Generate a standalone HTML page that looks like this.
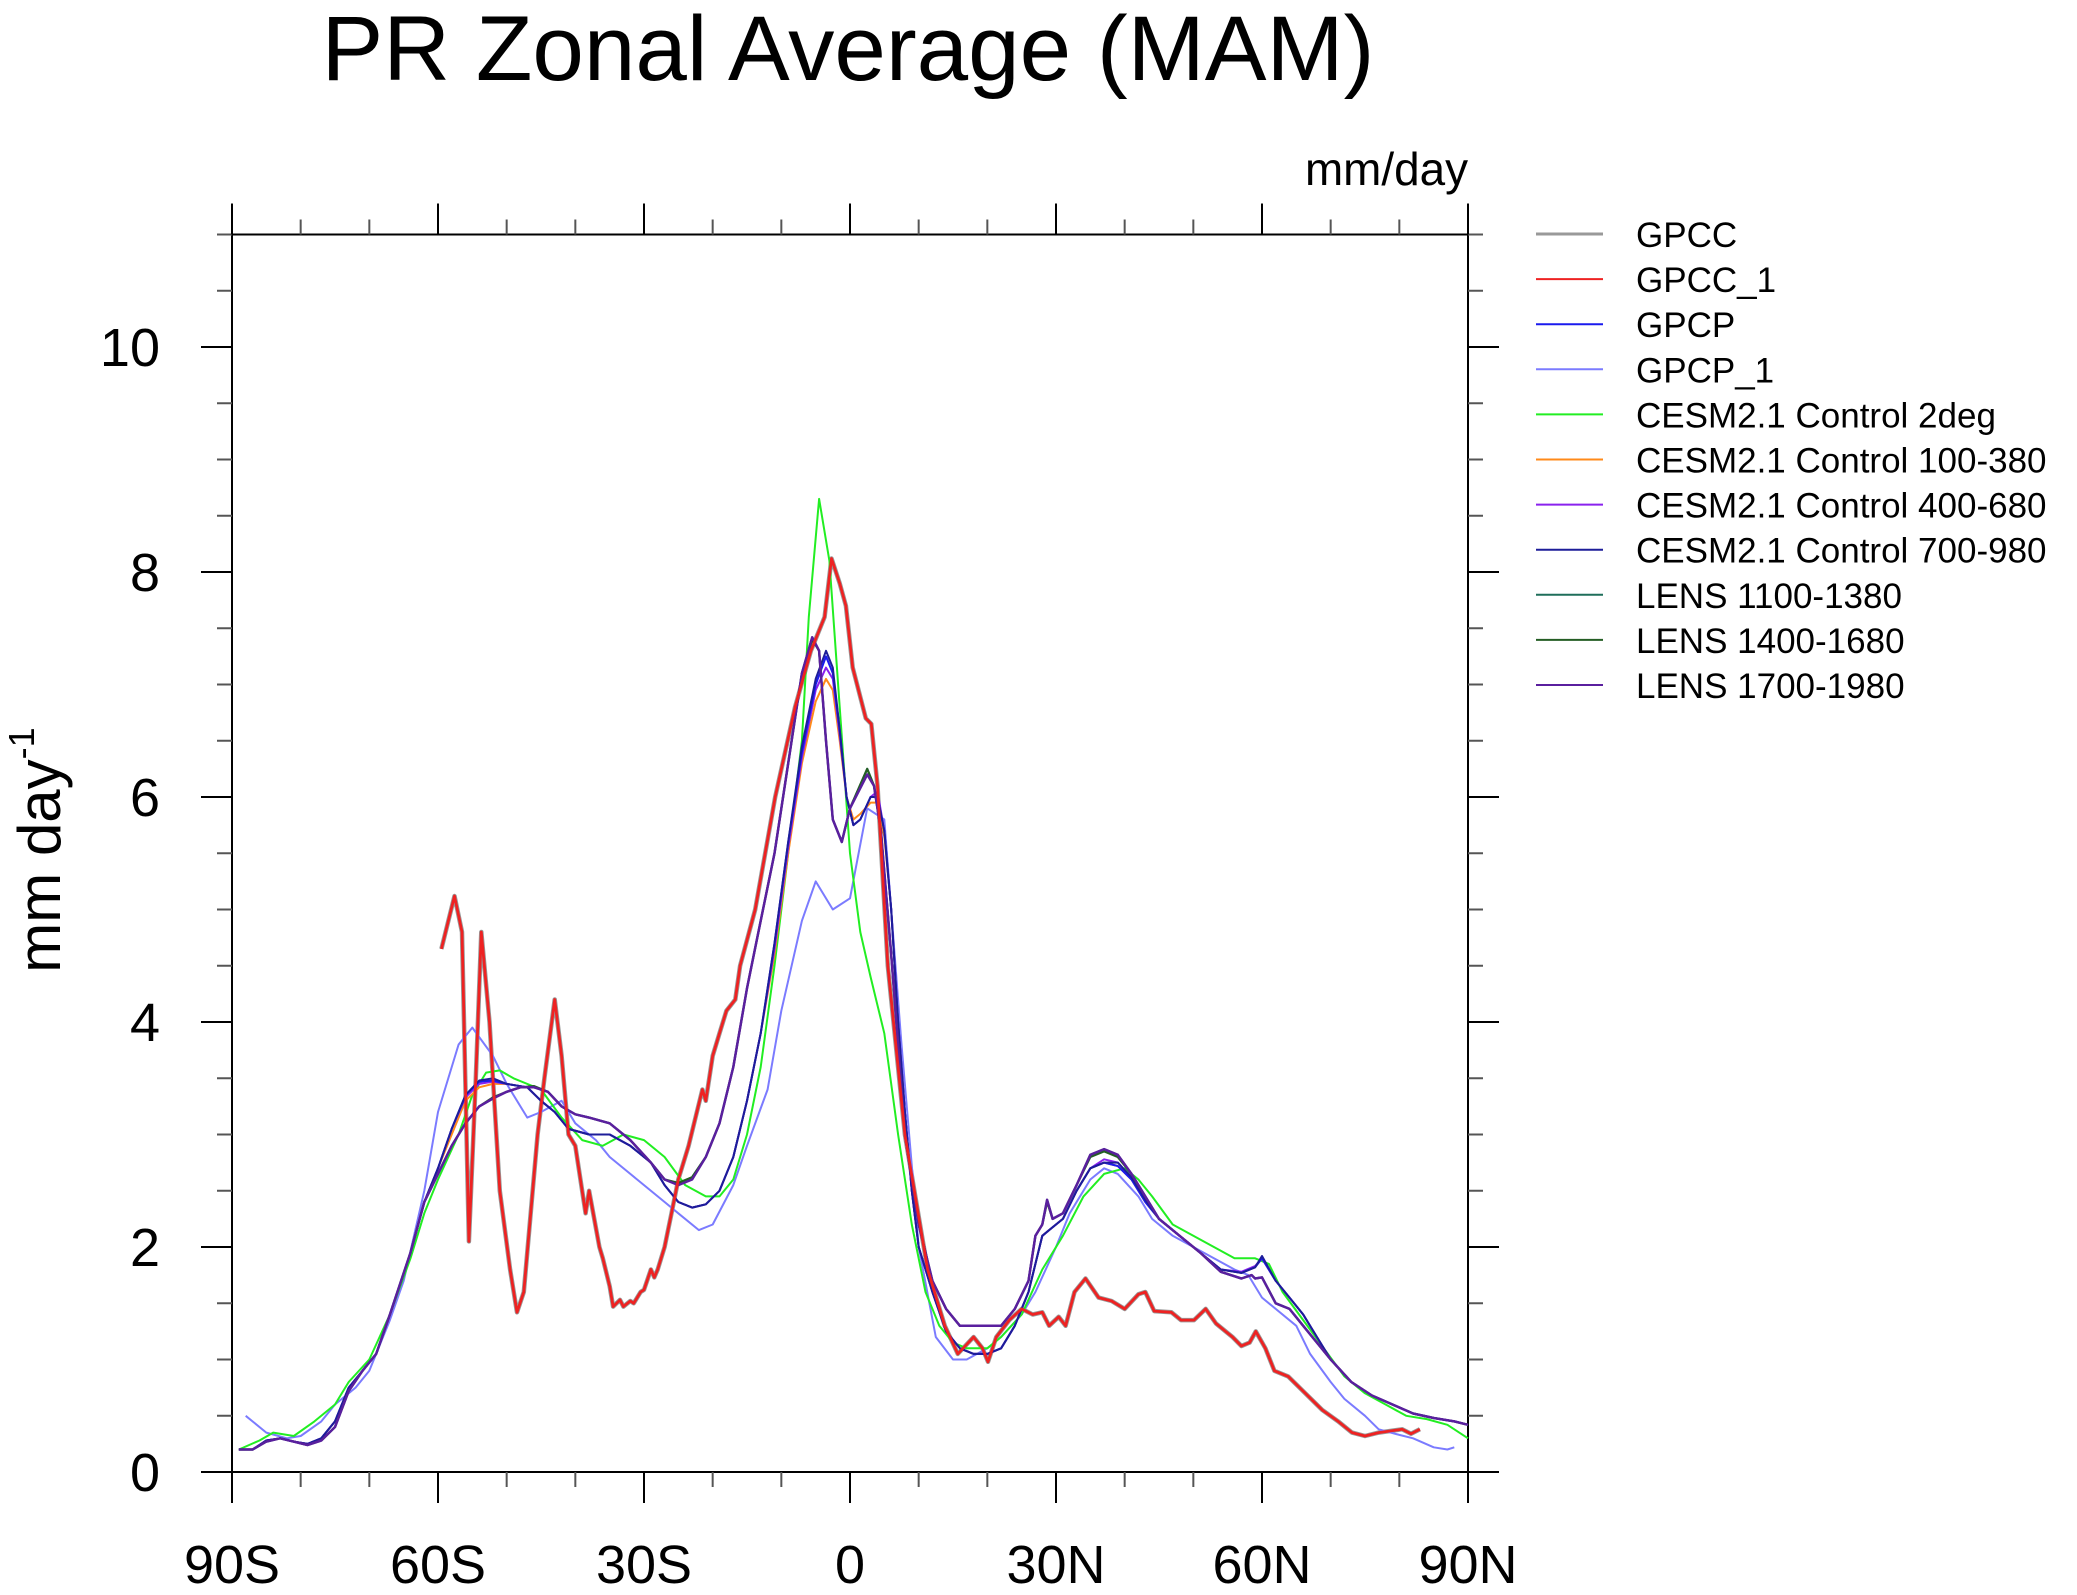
<!DOCTYPE html>
<html><head><meta charset="utf-8"><style>
html,body{margin:0;padding:0;background:#fff;}
svg{display:block;font-family:"Liberation Sans",Arial,sans-serif;}
</style></head><body>
<svg id="chart" width="2077" height="1595" viewBox="0 0 2077 1595" xmlns="http://www.w3.org/2000/svg">
<text x="848" y="80" font-size="92" text-anchor="middle" textLength="1053" lengthAdjust="spacingAndGlyphs">PR Zonal Average (MAM)</text>
<text x="1468" y="185" font-size="46" text-anchor="end" textLength="163" lengthAdjust="spacingAndGlyphs">mm/day</text>
<text transform="translate(60,850) rotate(-90)" font-size="60" text-anchor="middle">mm day<tspan font-size="36" dy="-26">-1</tspan></text>
<g id="axes"></g>
<g id="series"></g>
<g id="legend"></g>
</svg>
<script>
const yTicks = [0,2,4,6,8,10];
const xTicks = [-90,-60,-30,0,30,60,90];
const xTickLabels = ["90S","60S","30S","0","30N","60N","90N"];

const latGPCC1 = [-59.5,-57.6,-56.5,-55.5,-54.5,-53.7,-52.5,-51,-49.5,-48.5,-47.5,-45.5,-44.5,-43,-42,-41,-40,-38.5,-38,-36.5,-36,-35,-34.5,-33.5,-33,-32,-31.5,-30.5,-30,-29,-28.5,-28,-27,-26,-25,-23.5,-22.5,-21.5,-21,-20,-19,-18,-16.7,-16,-13.8,-10.9,-8,-5.7,-3.7,-2.7,-1.5,-0.6,0.4,2.3,3.1,4,5.5,8,11.3,13.8,15.7,18,19.3,20.1,21.3,23.2,25,26.6,28,29,30.4,31.4,32.7,34.3,36.2,38.1,40,42,43,44.3,46.8,48.2,50.1,51.8,53.3,54.7,55.7,57,58.2,59.1,60.5,61.8,63.8,66.3,68.8,71.1,73.1,75,77,79.3,80.4,81.7,83];
const valGPCC1 = [4.65,5.12,4.8,2.05,3.5,4.8,4.0,2.5,1.8,1.42,1.6,3.0,3.5,4.2,3.7,3.0,2.9,2.3,2.5,2.0,1.9,1.65,1.47,1.53,1.47,1.52,1.5,1.6,1.62,1.8,1.73,1.8,2.0,2.3,2.6,2.9,3.15,3.4,3.3,3.7,3.9,4.1,4.2,4.5,5.0,6.0,6.8,7.3,7.6,8.12,7.9,7.7,7.15,6.7,6.65,6.1,4.5,3.0,1.8,1.3,1.05,1.2,1.1,0.98,1.2,1.35,1.45,1.4,1.42,1.3,1.38,1.3,1.6,1.72,1.55,1.52,1.45,1.58,1.6,1.43,1.42,1.35,1.35,1.45,1.32,1.25,1.2,1.12,1.15,1.25,1.1,0.9,0.85,0.7,0.55,0.45,0.35,0.32,0.35,0.37,0.38,0.34,0.38];

const latGPCP1 = [-88,-85,-82,-80,-77,-75,-72,-70,-67,-65,-62,-60,-57,-55,-52,-50,-47,-45,-42,-40,-37,-35,-32,-30,-27,-25,-22,-20,-17,-15,-12,-10,-7,-5,-2.5,0,2.5,5,7.5,10,12.5,15,17,20,22,25,27,30,32,35,37,39,42,44,47,50,53,56,58,60,62,65,67,70,72,75,77,80,82,85,87,88];
const valGPCP1 = [0.5,0.35,0.3,0.32,0.45,0.6,0.75,0.9,1.35,1.7,2.5,3.2,3.8,3.95,3.7,3.45,3.15,3.2,3.3,3.1,2.95,2.8,2.65,2.55,2.4,2.3,2.15,2.2,2.55,2.9,3.4,4.1,4.9,5.25,5.0,5.1,5.9,5.8,3.8,2.0,1.2,1.0,1.0,1.1,1.2,1.4,1.6,2.0,2.3,2.6,2.7,2.65,2.45,2.25,2.1,2.0,1.9,1.8,1.75,1.55,1.45,1.3,1.05,0.8,0.65,0.5,0.38,0.33,0.3,0.22,0.2,0.22];

const latC2 = [-89,-86,-84,-81,-78,-75,-73,-70,-67,-64,-62,-60,-57,-55,-53,-51,-49,-45,-42,-39,-36,-33,-30,-27,-24,-21,-19,-17,-15,-13,-11,-9,-7,-6,-4.5,-3,-1.5,0,1.5,3,5,7,9,11,13,15,17,20,22,25,28,31,34,37,40,42,44,47,50,53,56,59,61,63,66,69,72,75,78,81,84,87,90];
const valC2 = [0.2,0.28,0.35,0.32,0.45,0.6,0.8,1.0,1.4,1.9,2.3,2.6,3.0,3.35,3.55,3.57,3.5,3.4,3.15,2.95,2.9,3.0,2.95,2.8,2.55,2.45,2.45,2.6,3.0,3.6,4.5,5.5,6.5,7.6,8.65,8.1,6.8,5.5,4.8,4.4,3.9,3.0,2.2,1.6,1.3,1.15,1.1,1.1,1.2,1.4,1.8,2.1,2.45,2.65,2.7,2.6,2.45,2.2,2.1,2.0,1.9,1.9,1.85,1.6,1.35,1.1,0.85,0.7,0.6,0.5,0.47,0.42,0.3];

const latA = [-89,-87,-85,-83,-81,-79,-77,-75,-73,-71,-69,-67,-64,-62,-60,-58,-56,-54,-52,-50,-47,-45,-43,-41,-38,-35,-32,-29,-27,-25,-23,-21,-19,-17,-15,-13,-11,-9,-7,-5,-3.5,-2.5,-1.5,-0.5,0.5,1.5,3,4,5,6,7,8,9,10,12,14,16,18,20,22,24,26,28,29,31,33,35,37,39,41,43,45,48,51,54,57,59,60,62,64,66,68,70,73,76,79,82,85,88,90];
const valGPCP = [0.2,0.2,0.28,0.3,0.27,0.25,0.3,0.45,0.75,0.9,1.05,1.4,1.95,2.4,2.7,3.05,3.35,3.47,3.48,3.45,3.42,3.3,3.2,3.05,3.0,3.0,2.9,2.75,2.55,2.4,2.35,2.38,2.5,2.8,3.3,3.9,4.7,5.6,6.4,7.0,7.25,7.1,6.6,6.0,5.75,5.8,6.0,6.0,5.7,5.0,4.0,3.2,2.5,2.0,1.6,1.25,1.1,1.05,1.05,1.1,1.3,1.6,2.1,2.15,2.25,2.5,2.7,2.75,2.72,2.6,2.4,2.25,2.1,1.95,1.8,1.77,1.82,1.9,1.7,1.55,1.4,1.2,1.0,0.8,0.68,0.6,0.52,0.48,0.45,0.42];
const valC100 = [0.2,0.2,0.28,0.3,0.27,0.25,0.3,0.45,0.75,0.9,1.05,1.4,1.95,2.4,2.7,3.0,3.3,3.42,3.45,3.45,3.42,3.3,3.2,3.05,3.0,3.0,2.9,2.75,2.55,2.4,2.35,2.38,2.5,2.8,3.3,3.9,4.6,5.5,6.3,6.85,7.05,6.95,6.5,6.0,5.8,5.85,5.95,5.95,5.65,5.0,4.0,3.2,2.5,2.0,1.6,1.25,1.1,1.05,1.05,1.1,1.3,1.6,2.1,2.15,2.25,2.5,2.7,2.75,2.72,2.6,2.4,2.25,2.1,1.95,1.8,1.77,1.82,1.9,1.7,1.55,1.4,1.2,1.0,0.8,0.68,0.6,0.52,0.48,0.45,0.42];
const valC400 = [0.2,0.2,0.28,0.3,0.27,0.25,0.3,0.45,0.75,0.9,1.05,1.4,1.95,2.4,2.7,3.05,3.33,3.45,3.47,3.45,3.42,3.3,3.2,3.05,3.0,3.0,2.9,2.75,2.55,2.4,2.35,2.38,2.5,2.8,3.3,3.9,4.65,5.55,6.35,6.95,7.15,7.05,6.55,6.0,5.75,5.8,6.0,6.05,5.7,5.0,4.0,3.2,2.5,2.0,1.6,1.25,1.1,1.05,1.05,1.1,1.3,1.6,2.1,2.15,2.25,2.5,2.7,2.78,2.75,2.62,2.42,2.25,2.1,1.95,1.8,1.78,1.83,1.9,1.7,1.55,1.4,1.2,1.0,0.8,0.68,0.6,0.52,0.48,0.45,0.42];
const valC700 = [0.2,0.2,0.28,0.3,0.27,0.25,0.3,0.45,0.75,0.9,1.05,1.4,1.95,2.4,2.7,3.05,3.35,3.48,3.5,3.45,3.42,3.3,3.2,3.05,3.0,3.0,2.9,2.75,2.55,2.4,2.35,2.38,2.5,2.8,3.3,3.9,4.7,5.6,6.45,7.05,7.3,7.15,6.6,6.0,5.75,5.8,6.0,6.0,5.7,5.0,4.0,3.2,2.5,2.0,1.6,1.25,1.1,1.05,1.05,1.1,1.3,1.6,2.1,2.15,2.25,2.5,2.7,2.75,2.75,2.62,2.42,2.25,2.1,1.95,1.8,1.77,1.82,1.92,1.7,1.55,1.4,1.2,1.0,0.8,0.68,0.6,0.52,0.48,0.45,0.42];

const latB = [-89,-87,-85,-83,-81,-79,-77,-75,-73,-71,-69,-67,-64,-62,-60,-58,-56,-54,-52,-50,-48,-46,-44,-42,-40,-38,-35,-32,-29,-27,-25,-23,-21,-19,-17,-15,-13,-11,-9,-7,-5.5,-4.5,-3.5,-2.5,-1.2,0,2.5,3.5,4.5,6,7,8,10,12,14,16,18,20,22,24,26,27,28,28.7,29.5,31,33,35,37,39,41,43,45,48,51,54,57,58.5,59,60,62,64,66,68,70,73,76,79,82,85,88,90];
const valL1 = [0.2,0.2,0.27,0.3,0.27,0.24,0.28,0.4,0.72,0.9,1.05,1.4,1.95,2.4,2.65,2.9,3.1,3.25,3.32,3.38,3.42,3.42,3.38,3.25,3.18,3.15,3.1,2.95,2.75,2.6,2.56,2.62,2.8,3.1,3.6,4.3,4.9,5.5,6.3,7.1,7.42,7.3,6.5,5.8,5.6,5.9,6.25,6.1,5.7,4.6,3.8,3.0,2.2,1.7,1.45,1.3,1.3,1.3,1.3,1.45,1.7,2.1,2.2,2.42,2.25,2.3,2.55,2.82,2.87,2.82,2.65,2.45,2.25,2.1,1.95,1.78,1.72,1.75,1.72,1.73,1.5,1.45,1.3,1.15,1.0,0.8,0.68,0.6,0.52,0.48,0.45,0.42];
const valL2 = [0.2,0.2,0.27,0.3,0.27,0.24,0.28,0.4,0.72,0.9,1.05,1.4,1.95,2.4,2.65,2.9,3.1,3.25,3.33,3.38,3.42,3.43,3.38,3.25,3.18,3.15,3.1,2.95,2.75,2.6,2.57,2.62,2.8,3.1,3.6,4.3,4.9,5.5,6.3,7.1,7.4,7.3,6.5,5.8,5.6,5.9,6.25,6.1,5.7,4.6,3.8,3.0,2.2,1.7,1.45,1.3,1.3,1.3,1.3,1.45,1.7,2.1,2.2,2.4,2.25,2.3,2.55,2.8,2.85,2.8,2.65,2.45,2.25,2.1,1.95,1.78,1.72,1.75,1.72,1.73,1.5,1.45,1.3,1.15,1.0,0.8,0.68,0.6,0.52,0.48,0.45,0.42];
const valL3 = [0.2,0.2,0.27,0.3,0.27,0.24,0.28,0.4,0.72,0.9,1.05,1.4,1.95,2.4,2.65,2.9,3.1,3.25,3.32,3.38,3.42,3.42,3.38,3.25,3.18,3.15,3.1,2.95,2.75,2.6,2.55,2.6,2.8,3.1,3.6,4.3,4.9,5.5,6.3,7.1,7.42,7.3,6.5,5.8,5.6,5.9,6.2,6.1,5.7,4.6,3.8,3.0,2.2,1.7,1.45,1.3,1.3,1.3,1.3,1.45,1.7,2.1,2.2,2.42,2.25,2.3,2.55,2.82,2.87,2.82,2.65,2.45,2.25,2.1,1.95,1.78,1.72,1.75,1.72,1.73,1.5,1.45,1.3,1.15,1.0,0.8,0.68,0.6,0.52,0.48,0.45,0.42];

const seriesNames = ["GPCC","GPCC_1","GPCP","GPCP_1","CESM2.1 Control 2deg","CESM2.1 Control 100-380","CESM2.1 Control 400-680","CESM2.1 Control 700-980","LENS 1100-1380","LENS 1400-1680","LENS 1700-1980"];
const seriesColors = ["#999999","#ee2222","#1a1aee","#7b7bff","#22ee22","#ff8a1a","#8a22ee","#1d1d99","#1f6e5a","#245e24","#5a1f9e"];

const X0=232, X1=1468, Y0=1472, YS=112.5;
function xs(lat){return X0+(lat+90)/180*(X1-X0);}
function ys(v){return Y0-v*YS;}
const NS="http://www.w3.org/2000/svg";
function mk(tag,parent){const e=document.createElementNS(NS,tag);parent.appendChild(e);return e;}

const axes=document.getElementById('axes');
const frame=mk('rect',axes);
frame.setAttribute('x',X0);frame.setAttribute('y',ys(11));frame.setAttribute('width',X1-X0);frame.setAttribute('height',Y0-ys(11));
frame.setAttribute('fill','none');frame.setAttribute('stroke','#000');frame.setAttribute('stroke-width','2');


for(let v=0;v<=11.001;v+=0.5){
  const major=Math.abs(v/2-Math.round(v/2))<1e-6 && v<=10;
  const len=major?31:15;
  [[X0,-1],[X1,1]].forEach(([x,d])=>{
    const t=mk('line',axes);
    t.setAttribute('x1',x);t.setAttribute('x2',x+d*len);t.setAttribute('y1',ys(v));t.setAttribute('y2',ys(v));
    t.setAttribute('stroke',major?'#000':'#555');t.setAttribute('stroke-width','2');
    
    
  });
}
for(let lat=-90;lat<=90;lat+=10){
  const major=lat%30===0;
  const len=major?31:15;
  [[Y0,1],[ys(11),-1]].forEach(([y,d])=>{
    const t=mk('line',axes);
    t.setAttribute('x1',xs(lat));t.setAttribute('x2',xs(lat));t.setAttribute('y1',y);t.setAttribute('y2',y+d*len);
    t.setAttribute('stroke',major?'#000':'#555');t.setAttribute('stroke-width','2');
    
    
  });
}
yTicks.forEach(v=>{
  const t=mk('text',axes);
  t.setAttribute('x',160);t.setAttribute('y',ys(v)+19);t.setAttribute('font-size','54');t.setAttribute('text-anchor','end');
  t.textContent=String(v);
  
  
});
xTicks.forEach((lat,i)=>{
  const t=mk('text',axes);
  t.setAttribute('x',xs(lat));t.setAttribute('y',1583);t.setAttribute('font-size','54');t.setAttribute('text-anchor','middle');
  t.textContent=xTickLabels[i];
  
  
});

const sg=document.getElementById('series');
const seriesData=[
  [latGPCC1,valGPCC1,0,4.5],
  [latGPCP1,valGPCP1,3,2],
  [latC2,valC2,4,2],
  [latA,valC100,5,2],
  [latA,valC400,6,2],
  [latA,valGPCP,2,2],
  [latA,valC700,7,2],
  [latB,valL1,8,2.2],
  [latB,valL2,9,2.2],
  [latB,valL3,10,2.5],
  [latGPCC1,valGPCC1,1,2.8]
];
seriesData.forEach(([la,va,ci,w])=>{
  const p=mk('path',sg);
  p.setAttribute('d',la.map((l,i)=>(i?'L':'M')+xs(l).toFixed(1)+','+ys(va[i]).toFixed(1)).join(''));
  p.setAttribute('fill','none');p.setAttribute('stroke',seriesColors[ci]);p.setAttribute('stroke-width',w);
  p.setAttribute('stroke-linejoin','round');
  
  
});

const lg=document.getElementById('legend');
seriesNames.forEach((n,i)=>{
  const y=234+i*45.1;
  const l=mk('line',lg);
  l.setAttribute('x1',1536);l.setAttribute('x2',1603);l.setAttribute('y1',y);l.setAttribute('y2',y);
  l.setAttribute('stroke',seriesColors[i]);l.setAttribute('stroke-width',i===0?3:2);
  
  
  const t=mk('text',lg);
  t.setAttribute('x',1636);t.setAttribute('y',y+13);t.setAttribute('font-size','35');
  t.textContent=n;
  
  
});
</script>
</body></html>
